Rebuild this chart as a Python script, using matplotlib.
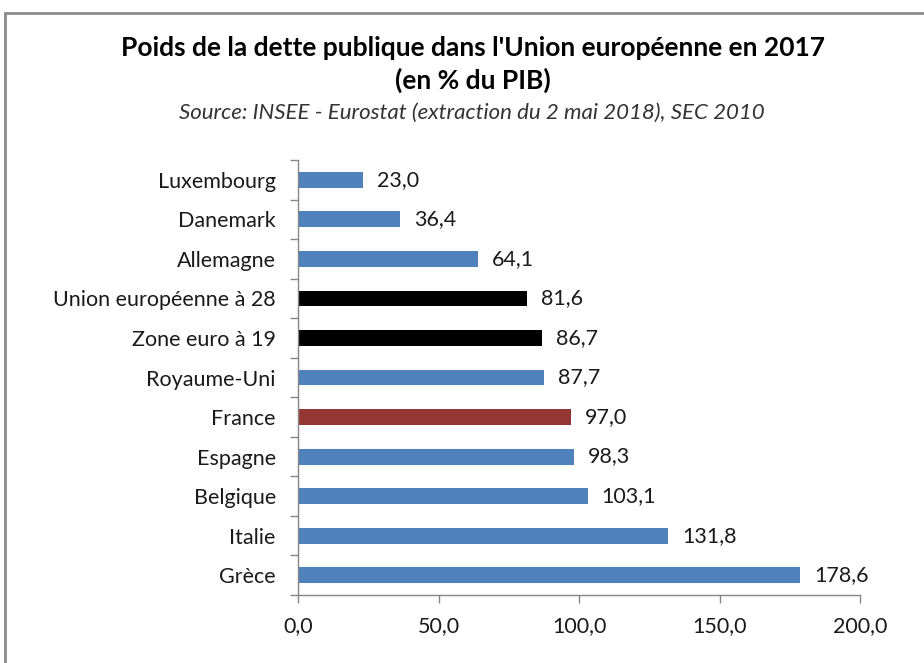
import matplotlib
matplotlib.use("Agg")
import matplotlib.pyplot as plt
from matplotlib.patches import Rectangle
import numpy as np

categories = ["Luxembourg", "Danemark", "Allemagne", "Union européenne à 28",
              "Zone euro à 19", "Royaume-Uni", "France", "Espagne",
              "Belgique", "Italie", "Grèce"]
values = [23.0, 36.4, 64.1, 81.6, 86.7, 87.7, 97.0, 98.3, 103.1, 131.8, 178.6]
colors = ["#4F81BD", "#4F81BD", "#4F81BD", "#000000", "#000000", "#4F81BD",
          "#943634", "#4F81BD", "#4F81BD", "#4F81BD", "#4F81BD"]
xticks = [0, 50, 100, 150, 200]

plt.rcParams['font.family'] = ['Lato', 'DejaVu Sans']

W, H = 924, 663
fig = plt.figure(figsize=(W/100, H/100), dpi=100)

# outer frame
fig.patches.append(Rectangle((5/W, -0.05), 1.1, 1 - 13/H + 0.05, transform=fig.transFigure,
                             fill=False, edgecolor="#8c8c8c", linewidth=2))

x0, x1 = 298, 860
y_top, y_bot = 160, 595
ax = fig.add_axes([x0/W, 1 - y_bot/H, (x1-x0)/W, (y_bot-y_top)/H])

n = len(categories)
pos = np.arange(n)
ax.barh(pos, values, height=0.4, color=colors)
ax.set_ylim(n - 0.5, -0.5)
ax.set_xlim(0, 200)

for p, v in zip(pos, values):
    ax.text(v + 5, p, f"{v:.1f}".replace(".", ","), va="center", ha="left",
            fontsize=15.5, color="#1a1a1a")

ax.set_yticks(pos)
ax.set_yticklabels(categories, fontsize=15.5, color="#1a1a1a")
ax.set_yticks(np.arange(-0.5, n, 1), minor=True)
ax.tick_params(axis="y", which="major", length=0, pad=16)
ax.tick_params(axis="y", which="minor", length=6, color="#868686", width=1)

ax.set_xticks(xticks)
ax.set_xticklabels([f"{t:.1f}".replace(".", ",") for t in xticks], fontsize=15.5, color="#1a1a1a")
ax.tick_params(axis="x", length=6, color="#868686", width=1, pad=9)

for s in ["top", "right"]:
    ax.spines[s].set_visible(False)
for s in ["left", "bottom"]:
    ax.spines[s].set_color("#868686")
    ax.spines[s].set_linewidth(1)

fig.text(473/W, 1 - 48/H, "Poids de la dette publique dans l'Union européenne en 2017",
         ha="center", va="center", fontsize=19, fontweight="bold", color="#000000")
fig.text(473/W, 1 - 80/H, "(en % du PIB)", ha="center", va="center",
         fontsize=19, fontweight="bold", color="#000000")
fig.text(472/W, 1 - 113/H, "Source: INSEE - Eurostat (extraction du 2 mai 2018), SEC 2010",
         ha="center", va="center", fontsize=16, style="italic", color="#333333")

fig.savefig("out.png", dpi=100)
